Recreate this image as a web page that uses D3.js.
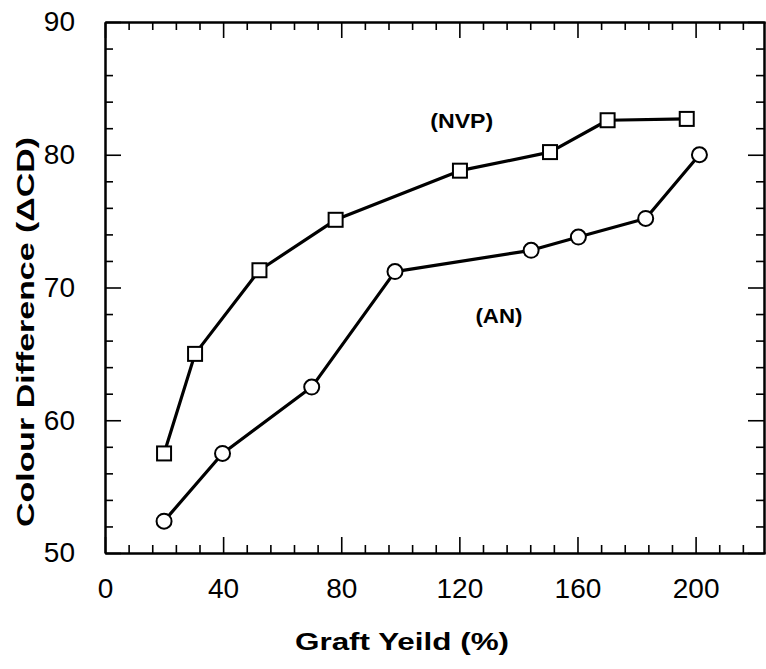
<!DOCTYPE html>
<html>
<head>
<meta charset="utf-8">
<script src="https://cdn.jsdelivr.net/npm/d3@7/dist/d3.min.js"></script>
<style>
  html, body { margin: 0; padding: 0; background: #fff; }
  svg { display: block; }
</style>
</head>
<body>
<svg id="chart" width="766" height="669"></svg>
<script>
// ---- data ----
const nvpX = [20, 30.5, 52.3, 78.1, 120.2, 150.7, 170.2, 197];
const nvpY = [57.5, 65.0, 71.3, 75.1, 78.8, 80.2, 82.6, 82.7];
const anX  = [20, 39.8, 70, 98.2, 144.3, 160.3, 183.1, 201.3];
const anY  = [52.4, 57.5, 62.5, 71.2, 72.8, 73.8, 75.2, 80.0];
const xTicks = [0, 40, 80, 120, 160, 200];
const yTicks = [50, 60, 70, 80, 90];
const seriesLabels = ["(NVP)", "(AN)"];
const labelX = [120.8, 133.4];
const labelY = [82.0, 67.3];
const xTitle = "Graft Yeild (%)";
const yTitle = "Colour Difference (\u0394CD)";

// ---- layout ----
const L = 105, R = 765, T = 22, B = 553;
const svg = d3.select("#chart");
const x = d3.scaleLinear().domain([0, 223.5]).range([L, R]);
const y = d3.scaleLinear().domain([50, 90]).range([B, T]);

const xMinor = d3.range(0, 224, 8).filter(v => v % 40 !== 0);
const yMinor = d3.range(50, 90, 2).filter(v => v % 10 !== 0);

function styleAxis(g) {
  g.selectAll("path.domain").attr("stroke", "#000").attr("stroke-width", 2);
  g.selectAll(".tick line").attr("stroke", "#000").attr("stroke-width", 1.6);
}

// bottom
const gB = svg.append("g").attr("transform", `translate(0,${B})`);
gB.call(d3.axisBottom(x).tickValues(xTicks).tickSizeInner(-16).tickSizeOuter(0).tickPadding(25).tickFormat(d3.format("d")));
gB.append("g").call(d3.axisBottom(x).tickValues(xMinor).tickSizeInner(-8).tickSizeOuter(0).tickFormat(""));
styleAxis(gB);
gB.selectAll("text").attr("font-family", "Liberation Sans, Arial, sans-serif").attr("font-size", 28).attr("fill", "#000");

// top
const gT = svg.append("g").attr("transform", `translate(0,${T})`);
gT.call(d3.axisTop(x).tickValues(xTicks).tickSizeInner(-16).tickSizeOuter(0).tickFormat(""));
gT.append("g").call(d3.axisTop(x).tickValues(xMinor).tickSizeInner(-8).tickSizeOuter(0).tickFormat(""));
styleAxis(gT);

// left
const gL = svg.append("g").attr("transform", `translate(${L},0)`);
gL.call(d3.axisLeft(y).tickValues(yTicks).tickSizeInner(-16).tickSizeOuter(0).tickPadding(30).tickFormat(d3.format("d")));
gL.append("g").call(d3.axisLeft(y).tickValues(yMinor).tickSizeInner(-8).tickSizeOuter(0).tickFormat(""));
styleAxis(gL);
gL.selectAll("text").attr("font-family", "Liberation Sans, Arial, sans-serif").attr("font-size", 28).attr("fill", "#000");

// right
const gR = svg.append("g").attr("transform", `translate(${R - 1},0)`);
gR.call(d3.axisRight(y).tickValues(yTicks).tickSizeInner(-16).tickSizeOuter(0).tickFormat(""));
gR.append("g").call(d3.axisRight(y).tickValues(yMinor).tickSizeInner(-8).tickSizeOuter(0).tickFormat(""));
styleAxis(gR);

// ---- series ----
const line = d3.line().x(d => x(d[0])).y(d => y(d[1]));
const nvp = nvpX.map((v, i) => [v, nvpY[i]]);
const an = anX.map((v, i) => [v, anY[i]]);

[nvp, an].forEach(s => {
  svg.append("path").datum(s).attr("d", line)
    .attr("fill", "none").attr("stroke", "#000").attr("stroke-width", 3.2)
    .attr("stroke-linejoin", "round");
});

svg.append("g").selectAll("rect").data(nvp).join("rect")
  .attr("x", d => x(d[0]) - 7).attr("y", d => y(d[1]) - 7)
  .attr("width", 14).attr("height", 14)
  .attr("fill", "#fff").attr("stroke", "#000").attr("stroke-width", 2);

svg.append("g").selectAll("circle").data(an).join("circle")
  .attr("cx", d => x(d[0])).attr("cy", d => y(d[1])).attr("r", 7.5)
  .attr("fill", "#fff").attr("stroke", "#000").attr("stroke-width", 2);

// ---- series labels ----
svg.append("g").selectAll("text").data(seriesLabels).join("text")
  .attr("x", (d, i) => x(labelX[i])).attr("y", (d, i) => y(labelY[i]))
  .attr("text-anchor", "middle")
  .attr("font-family", "Liberation Sans, Arial, sans-serif")
  .attr("font-weight", "bold").attr("font-size", 20)
  .attr("textLength", (d, i) => i === 0 ? 63 : 47)
  .attr("lengthAdjust", "spacingAndGlyphs")
  .text(d => d);

// ---- axis titles ----
svg.append("text")
  .attr("x", 402).attr("y", 650).attr("text-anchor", "middle")
  .attr("font-family", "Liberation Sans, Arial, sans-serif")
  .attr("font-weight", "bold").attr("font-size", 24)
  .attr("textLength", 214).attr("lengthAdjust", "spacingAndGlyphs")
  .text(xTitle);

svg.append("text")
  .attr("transform", "translate(34,332) rotate(-90)")
  .attr("text-anchor", "middle")
  .attr("font-family", "Liberation Sans, Arial, sans-serif")
  .attr("font-weight", "bold").attr("font-size", 24)
  .attr("textLength", 390).attr("lengthAdjust", "spacingAndGlyphs")
  .text(yTitle);
</script>
</body>
</html>
